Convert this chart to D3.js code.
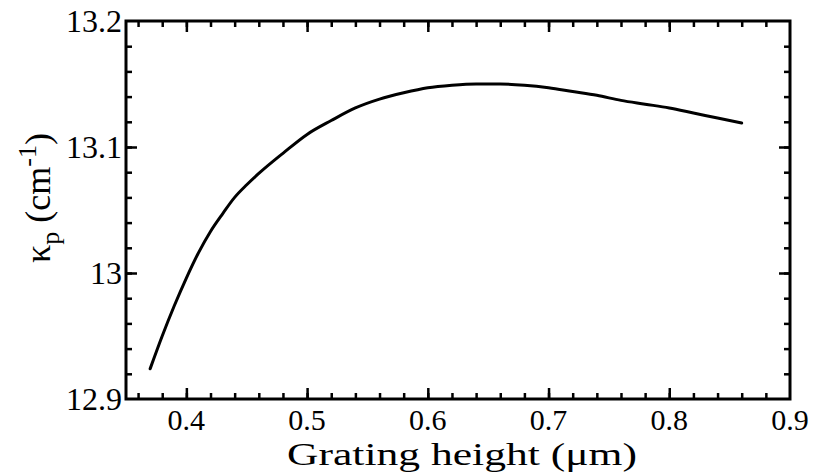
<!DOCTYPE html>
<html>
<head>
<meta charset="utf-8">
<script src="https://cdn.jsdelivr.net/npm/d3@7/dist/d3.min.js"></script>
<style>
html,body{margin:0;padding:0;background:#fff;}
svg{display:block;}
</style>
</head>
<body>
<svg id="chart" width="815" height="475" font-family="'Liberation Serif', 'DejaVu Serif', 'Times New Roman', serif"></svg>
<script>
// Data
const heights = [0.37,0.38,0.39,0.40,0.41,0.42,0.43,0.44,0.45,0.46,0.48,0.50,0.52,0.54,0.56,0.58,0.60,0.62,0.64,0.66,0.68,0.70,0.72,0.74,0.76,0.78,0.80,0.82,0.84,0.86];
const kappa   = [12.924,12.950,12.974,12.996,13.016,13.033,13.047,13.060,13.070,13.079,13.095,13.110,13.121,13.131,13.138,13.143,13.147,13.149,13.150,13.150,13.149,13.147,13.144,13.141,13.137,13.134,13.131,13.127,13.123,13.119];
const xTickValues = [0.4,0.5,0.6,0.7,0.8,0.9];
const xTickLabels = ["0.4","0.5","0.6","0.7","0.8","0.9"];
const yTickValues = [12.9,13.0,13.1,13.2];
const yTickLabels = ["12.9","13","13.1","13.2"];
const xMinor = d3.range(18,45).map(i=>i*0.02).filter(v=>v>0.351&&v<0.899);
const yMinor = d3.range(0,16).map(i=>12.9+i*0.02).filter(v=>v>12.901&&v<13.199);

const FONT = "'Liberation Serif', 'DejaVu Serif', 'Times New Roman', serif";
const svg = d3.select("#chart");
const L=126, R=790, T=21, B=399;
const x = d3.scaleLinear().domain([0.35,0.9]).range([L,R]);
const y = d3.scaleLinear().domain([12.9,13.2]).range([B,T]);

const g = svg.append("g");
function styleAxis(sel){
  sel.select(".domain").remove();
  sel.selectAll(".tick line").attr("stroke","#000").attr("stroke-width",2.5);
  sel.selectAll("text").remove();
}
// minor ticks
g.append("g").attr("transform",`translate(0,${B})`).call(d3.axisBottom(x).tickValues(xMinor).tickSize(-6)).call(styleAxis);
g.append("g").attr("transform",`translate(0,${T})`).call(d3.axisTop(x).tickValues(xMinor).tickSize(-6)).call(styleAxis);
g.append("g").attr("transform",`translate(${L},0)`).call(d3.axisLeft(y).tickValues(yMinor).tickSize(-6)).call(styleAxis);
g.append("g").attr("transform",`translate(${R},0)`).call(d3.axisRight(y).tickValues(yMinor).tickSize(-6)).call(styleAxis);
// major ticks
g.append("g").attr("transform",`translate(0,${B})`).call(d3.axisBottom(x).tickValues(xTickValues.slice(0,-1)).tickSize(-11)).call(styleAxis);
g.append("g").attr("transform",`translate(0,${T})`).call(d3.axisTop(x).tickValues(xTickValues.slice(0,-1)).tickSize(-11)).call(styleAxis);
g.append("g").attr("transform",`translate(${L},0)`).call(d3.axisLeft(y).tickValues(yTickValues.slice(1,-1)).tickSize(-11)).call(styleAxis);
g.append("g").attr("transform",`translate(${R},0)`).call(d3.axisRight(y).tickValues(yTickValues.slice(1,-1)).tickSize(-11)).call(styleAxis);

// frame
g.append("rect").attr("x",L).attr("y",T).attr("width",R-L).attr("height",B-T)
  .attr("fill","none").attr("stroke","#000").attr("stroke-width",3);

// tick labels
g.selectAll(".xl").data(xTickValues).enter().append("text")
  .attr("font-family",FONT)
  .attr("x",d=>x(d)).attr("y",430).attr("text-anchor","middle")
  .attr("font-size",30).text((d,i)=>xTickLabels[i]);
g.selectAll(".yl").data(yTickValues).enter().append("text")
  .attr("font-family",FONT)
  .attr("x",L-4).attr("y",d=>y(d)).attr("dy","0.34em").attr("text-anchor","end")
  .attr("font-size",32).text((d,i)=>yTickLabels[i]);

// axis titles
g.append("text").attr("font-family",FONT).attr("x",462).attr("y",465).attr("text-anchor","middle")
  .attr("font-size",32).attr("textLength",350).attr("lengthAdjust","spacingAndGlyphs")
  .text("Grating height (\u03BCm)");

const yt = g.append("text").attr("font-family",FONT).attr("transform","translate(50,198) rotate(-90)")
  .attr("text-anchor","middle").attr("font-size",36);
yt.append("tspan").text("\u03BA");
yt.append("tspan").attr("font-size",26).attr("dy",9).text("p");
yt.append("tspan").attr("dy",-9).text(" (cm");
yt.append("tspan").attr("font-size",26).attr("dy",-14).text("-1");
yt.append("tspan").attr("dy",14).text(")");

// curve
const pts = heights.map((h,i)=>[h,kappa[i]]);
g.append("path").datum(pts)
  .attr("fill","none").attr("stroke","#000").attr("stroke-width",3)
  .attr("stroke-linecap","round")
  .attr("d",d3.line().x(d=>x(d[0])).y(d=>y(d[1])).curve(d3.curveMonotoneX));
</script>
</body>
</html>
